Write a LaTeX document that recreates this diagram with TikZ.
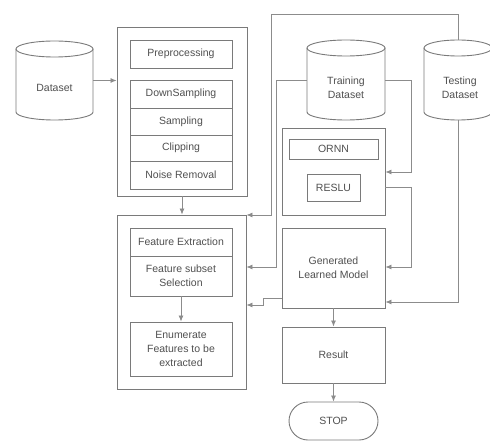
\documentclass[tikz,border=0pt]{standalone}
\usepackage{fontspec}
\setmainfont{Liberation Sans}
\usetikzlibrary{arrows.meta}
\definecolor{edge}{HTML}{7A7A7A}
\definecolor{wire}{HTML}{8C8C8C}
\definecolor{ink}{HTML}{505050}
\tikzset{
  blk/.style={draw=edge, line width=0.9pt, rectangle, inner sep=0pt, align=center,
    text=ink, font=\fontsize{10.5}{14}\selectfont},
  plain/.style={inner sep=0pt, align=center, text=ink, font=\fontsize{10.5}{14}\selectfont},
  cylline/.style={draw=edge, line width=0.9pt},
  wirel/.style={draw=wire, line width=0.8pt},
  arr/.style={wirel, -{Latex[length=6pt,width=5pt]}},
}
% cylinder outline: left x, top y, right x, bottom y, cap half-height
\newcommand{\drumshape}[5]{%
  \draw[cylline] ({(#1+#3)/2},{#2+#5}) ellipse [x radius={(#3-#1)/2}, y radius=#5];
  \draw[cylline] (#1,{#2+#5}) -- (#1,{#4-#5})
    arc[start angle=180, end angle=0, x radius={(#3-#1)/2}, y radius=#5]
    -- (#3,{#2+#5});
}
\begin{document}
\begin{tikzpicture}[x=1pt,y=-1pt]
\useasboundingbox (0,0) rectangle (490,441);
\fill[white] (0,0) rectangle (490,441);

% data stores
\drumshape{16}{41}{93}{120}{8}
\drumshape{307}{40}{385}{120}{8}
\drumshape{424}{40}{492}{120}{8}
\node[plain, minimum width=77, minimum height=79] (data) at (54.5,80.5) {};
\node[plain] at (54.5,88) {Dataset};
\node[plain, minimum width=78, minimum height=80] (train) at (346,80) {};
\node[plain] at (346,88) {Training\\Dataset};
\node[plain, minimum width=68, minimum height=80] (test) at (458,80) {};
\node[plain] at (460,88) {Testing\\Dataset};
\coordinate (testtop) at (458,40);
\coordinate (testbot) at (458,120);

% preprocessing block
\node[blk, minimum width=130, minimum height=169] (pre) at (182,111.5) {};
\node[blk, minimum width=102, minimum height=28] (prep) at (181,54) {Preprocessing};
\node[blk, minimum width=102, minimum height=28] (down) at (181,94) {DownSampling};
\node[blk, minimum width=102, minimum height=27] (samp) at (181,121.5) {Sampling};
\node[blk, minimum width=102, minimum height=26] (clip) at (181,148) {Clipping};
\node[blk, minimum width=102, minimum height=28] (noise) at (181,175) {Noise Removal};

% feature block
\node[blk, minimum width=129, minimum height=174] (feat) at (181.5,302) {};
\node[blk, minimum width=102, minimum height=28] (fext) at (181,242) {Feature Extraction};
\node[blk, minimum width=102, minimum height=40] (fss) at (181,276) {Feature subset\\Selection};
\node[blk, minimum width=102, minimum height=54] (enum) at (181,349) {Enumerate\\Features to be\\extracted};

% model column
\node[blk, minimum width=103, minimum height=87] (net) at (333.5,171.5) {};
\node[blk, minimum width=89, minimum height=20] (ornn) at (333.5,149) {ORNN};
\node[blk, minimum width=53, minimum height=27] (reslu) at (333.5,187.5) {RESLU};
\node[blk, minimum width=103, minimum height=80] (gen) at (333.5,268) {Generated\\Learned Model};
\node[blk, minimum width=103, minimum height=56] (res) at (333.5,355) {Result};
\node[blk, minimum width=89, minimum height=38, rounded corners=19] (stop) at (333.5,421) {STOP};

% connectors
\draw[arr] (data.east) -- (pre.west |- data.east);
\draw[arr] (pre.south) -- (feat.north -| pre.south);
\draw[arr] (fss.south) -- (enum.north);
\draw[arr] (testtop) -- (458,14) -- (271,14) -- (271,215) -- (feat.east |- 0,215);
\draw[arr] (train.west) -- (276,80) -- (276,267) -- (feat.east |- 0,267);
\draw[arr] (gen.west |- 0,298) -- (263,298) -- (263,305) -- (feat.east |- 0,305);
\draw[arr] (train.east) -- (411,80) -- (411,172) -- (net.east |- 0,172);
\draw[arr] (net.east |- 0,187) -- (411,187) -- (411,267) -- (gen.east |- 0,267);
\draw[arr] (testbot) -- (458,302) -- (gen.east |- 0,302);
\draw[arr] (gen.south) -- (res.north);
\draw[arr] (res.south) -- (stop.north);
\end{tikzpicture}
\end{document}
